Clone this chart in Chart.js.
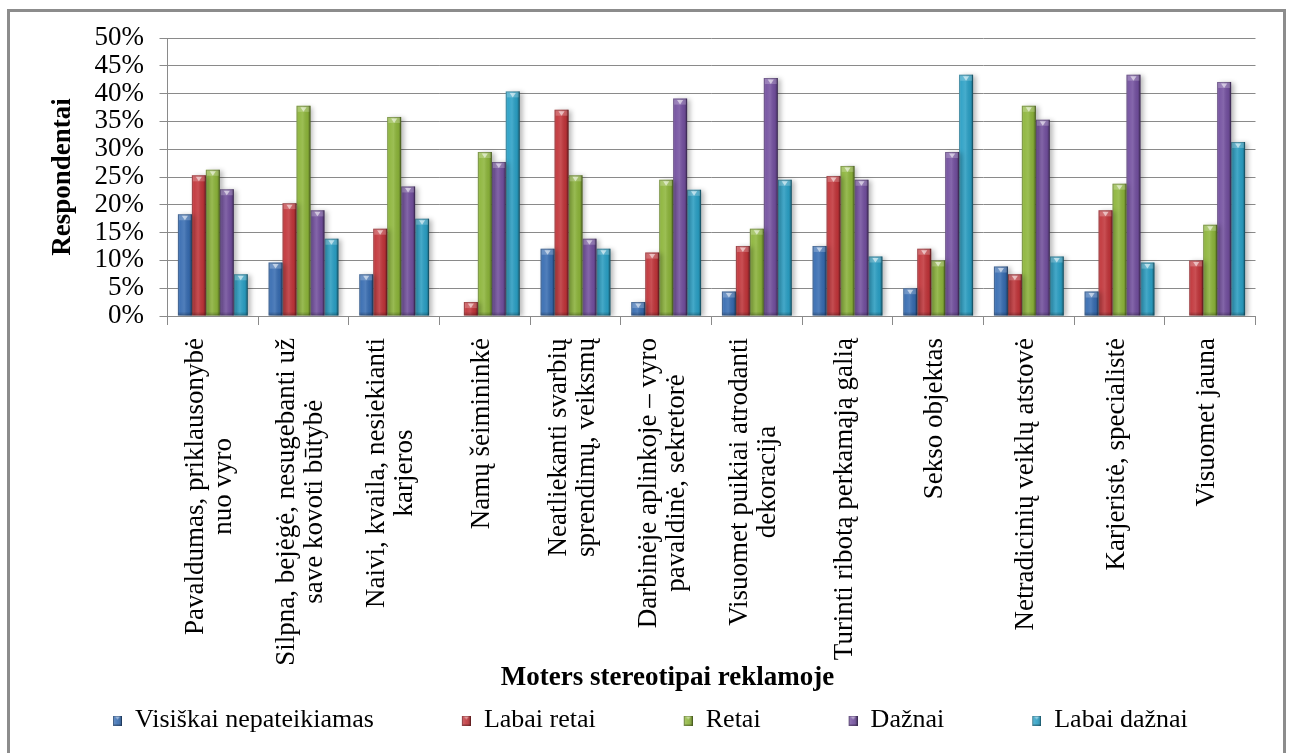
<!DOCTYPE html>
<html>
<head>
<meta charset="utf-8">
<title>Moters stereotipai reklamoje</title>
<script src="https://cdn.jsdelivr.net/npm/chart.js@4/dist/chart.umd.min.js"></script>
<style>
  html, body { margin: 0; padding: 0; background: #fff; }
  #wrap { position: relative; width: 1291px; height: 753px; }
</style>
</head>
<body>
<div id="wrap"><canvas id="chart"></canvas></div>
<script>
// Category labels (line breaks as shown under the axis)
const categories = [
  ['Pavaldumas, priklausonybė', 'nuo vyro'],
  ['Silpna, bejėgė, nesugebanti už', 'save kovoti būtybė'],
  ['Naivi, kvaila, nesiekianti', 'karjeros'],
  ['Namų šeimininkė'],
  ['Neatliekanti svarbių', 'sprendimų, veiksmų'],
  ['Darbinėje aplinkoje – vyro', 'pavaldinė, sekretorė'],
  ['Visuomet puikiai atrodanti', 'dekoracija'],
  ['Turinti ribotą perkamąją galią'],
  ['Sekso objektas'],
  ['Netradicinių veiklų atstovė'],
  ['Karjeristė, specialistė'],
  ['Visuomet jauna']
];

const seriesNames = ['Visiškai nepateikiamas', 'Labai retai', 'Retai', 'Dažnai', 'Labai dažnai'];

// Share of respondents, %
const visiskaiNepateikiamas = [18.3, 9.6, 7.5, 0, 12.1, 2.5, 4.4, 12.6, 5.0, 8.9, 4.4, 0];
const labaiRetai           = [25.3, 20.3, 15.7, 2.5, 37.1, 11.4, 12.6, 25.2, 12.1, 7.5, 19.0, 10.0];
const retai                = [26.3, 37.8, 35.8, 29.5, 25.3, 24.5, 15.7, 27.0, 10.0, 37.8, 23.8, 16.4];
const daznai               = [22.8, 19.0, 23.3, 27.7, 13.9, 39.1, 42.8, 24.5, 29.5, 35.3, 43.4, 42.1];
const labaiDaznai          = [7.5, 13.9, 17.5, 40.4, 12.1, 22.7, 24.5, 10.7, 43.4, 10.7, 9.6, 31.3];

const yTickValues = [0, 5, 10, 15, 20, 25, 30, 35, 40, 45, 50];

const xAxisTitle = 'Moters stereotipai reklamoje';
const yAxisTitle = 'Respondentai';

const seriesColors = ['#376cb1', '#c1353a', '#8db53b', '#73509f', '#2ba0c5'];

const SERIF = '"Liberation Serif", "Times New Roman", serif';
const GRID = '#8a8a8a';
const CAT_SIZE = 27;
const CAT_LINE = 28;

// Legend swatches: a blank lead-in followed by a small bevelled square
function makeSwatch(color) {
  const c = document.createElement('canvas');
  c.width = 89; c.height = 10;
  const g = c.getContext('2d');
  g.fillStyle = color;
  g.fillRect(80, 0, 9, 10);
  const lg = g.createLinearGradient(80, 0, 89, 0);
  lg.addColorStop(0, 'rgba(255,255,255,0.25)');
  lg.addColorStop(0.5, 'rgba(255,255,255,0.1)');
  lg.addColorStop(1, 'rgba(0,0,0,0.3)');
  g.fillStyle = lg;
  g.fillRect(80, 0, 9, 10);
  g.fillStyle = 'rgba(255,255,255,0.45)';
  g.beginPath(); g.moveTo(82, 1); g.lineTo(87, 1); g.lineTo(84.5, 4); g.closePath(); g.fill();
  g.strokeStyle = 'rgba(0,0,0,0.3)';
  g.lineWidth = 1;
  g.strokeRect(80.5, 0.5, 8, 9);
  return c;
}
const swatches = seriesColors.map(makeSwatch);

// White page with the grey chart frame
const frameAndBackground = {
  id: 'frameAndBackground',
  beforeDraw(chart) {
    const { ctx, width, height } = chart;
    ctx.save();
    ctx.fillStyle = '#fff';
    ctx.fillRect(0, 0, width, height);
    ctx.strokeStyle = '#8c8c8c';
    ctx.lineWidth = 3;
    ctx.strokeRect(8.5, 10.5, width - 15, height + 20);
    ctx.restore();
  }
};

// Soft drop shadow under the bars, then bevel shading on top of each bar
const barShading = {
  id: 'barShading',
  beforeDatasetsDraw(chart) {
    const ctx = chart.ctx;
    ctx.save();
    ctx.shadowColor = 'rgba(0,0,0,0.28)';
    ctx.shadowBlur = 5;
    ctx.shadowOffsetX = 3;
    ctx.shadowOffsetY = 1;
  },
  afterDatasetsDraw(chart) {
    const ctx = chart.ctx;
    ctx.restore();
    ctx.save();
    chart.data.datasets.forEach((ds, di) => {
      const meta = chart.getDatasetMeta(di);
      meta.data.forEach((bar) => {
        const { x, y, base, width } = bar.getProps(['x', 'y', 'base', 'width'], true);
        const h = base - y;
        if (h < 1) return;
        const l = x - width / 2, r = x + width / 2;
        const g = ctx.createLinearGradient(l, 0, r, 0);
        g.addColorStop(0, 'rgba(255,255,255,0.22)');
        g.addColorStop(0.15, 'rgba(255,255,255,0.05)');
        g.addColorStop(0.45, 'rgba(255,255,255,0.13)');
        g.addColorStop(0.8, 'rgba(0,0,0,0.06)');
        g.addColorStop(1, 'rgba(0,0,0,0.38)');
        ctx.fillStyle = g;
        ctx.fillRect(l, y, width, h);
        const cap = Math.min(6, h);
        ctx.fillStyle = 'rgba(255,255,255,0.22)';
        ctx.fillRect(l + 1, y, width - 2, cap);
        ctx.fillStyle = 'rgba(255,255,255,0.55)';
        ctx.beginPath();
        ctx.moveTo(l + width * 0.28, y + 1.5);
        ctx.lineTo(r - width * 0.28, y + 1.5);
        ctx.lineTo(x, y + cap);
        ctx.closePath();
        ctx.fill();
        const b = Math.min(3, h);
        ctx.fillStyle = 'rgba(0,0,0,0.12)';
        ctx.fillRect(l, base - b, width, b);
        ctx.strokeStyle = 'rgba(0,0,0,0.22)';
        ctx.lineWidth = 1;
        ctx.strokeRect(l + 0.5, y + 0.5, width - 1, h - 1);
      });
    });
    ctx.restore();
  }
};

// Vertical category labels (lines centred on each other) and the category axis title
const categoryLabels = {
  id: 'categoryLabels',
  afterDraw(chart) {
    const xs = chart.scales.x;
    const ctx = chart.ctx;
    ctx.save();
    ctx.fillStyle = '#000';
    ctx.textAlign = 'center';
    ctx.textBaseline = 'middle';
    ctx.font = CAT_SIZE + 'px ' + SERIF;
    categories.forEach((lines, i) => {
      const longest = Math.max(...lines.map(s => ctx.measureText(s).width));
      const cx = xs.getPixelForValue(i) - 3;
      const cy = xs.top + 22 + longest / 2;
      lines.forEach((s, j) => {
        ctx.save();
        ctx.translate(cx + (j - (lines.length - 1) / 2) * CAT_LINE, cy);
        ctx.rotate(-Math.PI / 2);
        ctx.fillText(s, 0, 0);
        ctx.restore();
      });
    });
    ctx.font = 'bold 27px ' + SERIF;
    ctx.fillText(xAxisTitle, chart.width / 2 + 22, chart.legend.top - 21);
    ctx.restore();
  }
};

const seriesData = [visiskaiNepateikiamas, labaiRetai, retai, daznai, labaiDaznai];

Chart.defaults.font.family = SERIF;
Chart.defaults.color = '#000';

new Chart(document.getElementById('chart'), {
  type: 'bar',
  data: {
    labels: categories.map(l => l.join(' ')),
    datasets: seriesNames.map((name, i) => ({
      label: name,
      data: seriesData[i],
      backgroundColor: seriesColors[i],
      borderWidth: 0,
      barPercentage: 1.0,
      categoryPercentage: 0.77
    }))
  },
  options: {
    responsive: true,
    maintainAspectRatio: false,
    animation: false,
    layout: { padding: { left: 25, right: 35.5, top: 38, bottom: 9.5 } },
    plugins: {
      legend: {
        position: 'bottom',
        align: 'start',
        labels: {
          usePointStyle: true,
          pointStyleWidth: 89,
          padding: 8,
          color: '#000',
          font: { size: 26, family: SERIF },
          generateLabels(chart) {
            const items = Chart.defaults.plugins.legend.labels.generateLabels(chart);
            items.forEach((it, i) => { it.pointStyle = swatches[i]; });
            return items;
          }
        }
      },
      tooltip: { enabled: false }
    },
    scales: {
      x: {
        afterFit(scale) { scale.height = 383.5; },
        grid: {
          offset: true,
          drawOnChartArea: false,
          drawTicks: true,
          tickLength: 9,
          color: GRID
        },
        border: { display: true, color: GRID },
        ticks: { display: false }
      },
      y: {
        min: 0,
        max: 50,
        afterFit(scale) { scale.width = 142.5; },
        afterBuildTicks(scale) { scale.ticks = yTickValues.map(v => ({ value: v })); },
        grid: { color: GRID, lineWidth: 1, tickLength: 8, drawTicks: true },
        border: { display: true, color: GRID },
        ticks: {
          autoSkip: false,
          stepSize: 5,
          padding: 15.5,
          font: { size: 27, family: SERIF },
          color: '#000',
          callback: v => v + '%'
        },
        title: {
          display: true,
          text: yAxisTitle,
          font: { size: 27, weight: 'bold', family: SERIF },
          color: '#000',
          padding: { top: 21.8, bottom: 0 }
        }
      }
    }
  },
  plugins: [frameAndBackground, barShading, categoryLabels]
});
</script>
</body>
</html>
